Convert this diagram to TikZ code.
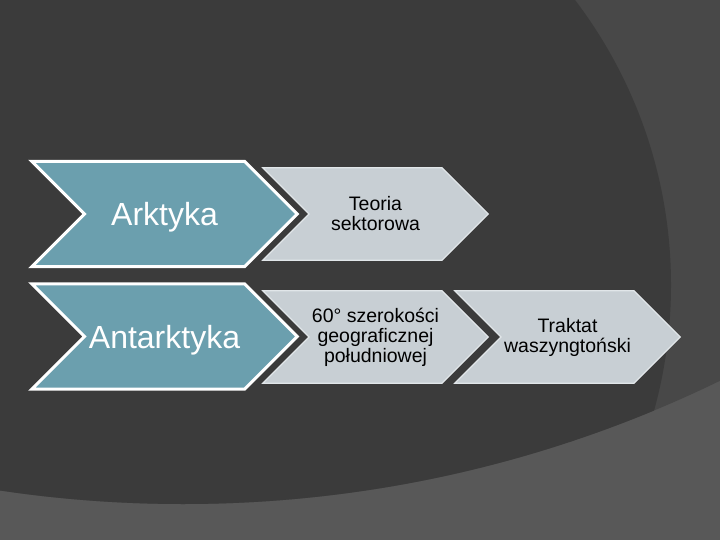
\documentclass[tikz,border=0pt]{standalone}
\usepackage{fontspec}
\setmainfont{Liberation Sans}
\usetikzlibrary{calc, backgrounds}

\definecolor{bgdark}{HTML}{3B3B3B}
\definecolor{bgmid}{HTML}{484848}
\definecolor{bglight}{HTML}{585858}
\definecolor{regionblue}{HTML}{6B9FAE}
\definecolor{itemgray}{HTML}{C8CFD4}
\definecolor{itemedge}{HTML}{E1E6E9}

% chevron round a node: #1 node, #2 fill, #3 outline, #4 line width
\newcommand{\chevron}[4]{%
  \filldraw[fill=#2, draw=#3, line width=#4]
    let \p1 = (#1.north), \p2 = (#1.south), \n1 = {(\y1-\y2)/2} in
    (#1.north west) -- ([xshift=-\n1]#1.north east) -- (#1.east)
    -- ([xshift=-\n1]#1.south east) -- (#1.south west)
    -- ([xshift=\n1]#1.west) -- cycle;}

\begin{document}
\begin{tikzpicture}[
  x = 1pt, y = -1pt,
  region/.style = {text = white, font = \fontsize{32}{36}\selectfont,
    minimum width = 265pt, minimum height = 105pt, inner sep = 0pt,
    text depth = 0pt},
  item/.style = {text = black, align = center,
    font = \fontsize{19.5}{20}\selectfont,
    minimum width = 225pt, minimum height = 92pt, inner sep = 0pt}
]
\useasboundingbox (0,0) rectangle (720,540);

% regions
\node[region](ark) at (164.5,214)   {Arktyka};
\node[region](ant) at (164.5,336.5) {Antarktyka};

% claims
\node[item](sect)   at (375.5,214) {Teoria\\sektorowa};
\node[item](lat)    at (375.5,337) {60° szerokości\\geograficznej\\południowej};
\node[item](treaty) at (567.5,337) {Traktat\\waszyngtoński};

% background arcs
\begin{scope}[on background layer]
  \clip (0,0) rectangle (720,540);
  \fill[bglight] (0,0) rectangle (720,540);
  \fill[bgmid] (183,-725) circle[radius = 1229pt];
  \clip (183,-725) circle[radius = 1229pt];
  \fill[bgdark] (200,285) circle[radius = 471pt];
\end{scope}

% chevrons
\begin{scope}[on background layer]
  \chevron{ark}{regionblue}{white}{3pt}
  \chevron{ant}{regionblue}{white}{3pt}
  \chevron{sect}{itemgray}{itemedge}{1.2pt}
  \chevron{lat}{itemgray}{itemedge}{1.2pt}
  \chevron{treaty}{itemgray}{itemedge}{1.2pt}
\end{scope}

\end{tikzpicture}
\end{document}
